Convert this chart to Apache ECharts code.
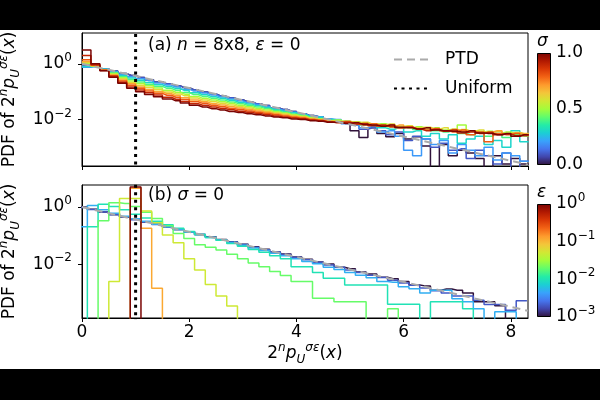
<!DOCTYPE html>
<html lang="en">

<head>
    <meta http-equiv="Content-Type" content="text/html; charset=utf-8" />
    <title>PDF of 2^n p</title>
    <style>
        html,
        body,
        #myChart {
            width: 100%;
            height: 100%;
            margin: 0;
            padding: 0;
            overflow: hidden;
            background: #fff;
        }
    </style>
</head>

<body>
    <div id="myChart"></div>
    <script src="https://cdn.jsdelivr.net/npm/echarts@6/dist/echarts.min.js"></script>
    <script>
        // histogram bins: panel (a) 50 bins of width 1/6 from 0, panel (b) bins of width 0.2 centred on 0, 0.2, ... 8.2
        var topBinWidth = 1 / 6;
        var bottomBinWidth = 0.2;
        var xMax = 8.32;

        // panel (a): log10 of the pdf for each sigma (null = empty bin)
        var sigmaValues = [0, 0.1, 0.2, 0.3, 0.4, 0.5, 0.6, 0.7, 0.8, 0.9, 1.0];
        var logPdfSigma00 = [-0.05, -0.10, -0.18, -0.26, -0.35, -0.42, -0.49, -0.57, -0.65, -0.72,
            -0.79, -0.86, -0.93, -1.01, -1.08, -1.15, -1.22, -1.29, -1.36, -1.43,
            -1.50, -1.58, -1.64, -1.71, -1.79, -1.86, -1.90, -2.00, -2.08, -2.10,
            -2.40, -2.65, -2.30, -2.50, -2.62, -2.50, -2.70, -2.62, -2.95, null,
            -2.90, -3.30, -3.10, -3.20, -3.40, null, -3.30, -3.60, -3.40, -3.60];
        var logPdfSigma01 = [-0.05, -0.10, -0.18, -0.26, -0.35, -0.42, -0.49, -0.57, -0.65, -0.72,
            -0.79, -0.86, -0.93, -1.01, -1.08, -1.15, -1.22, -1.29, -1.36, -1.43,
            -1.50, -1.58, -1.64, -1.71, -1.79, -1.86, -1.90, -2.00, -2.10, -2.05,
            -2.20, -2.35, -2.30, -2.40, -2.55, -2.45, -2.75, -2.60, -2.70, -3.00,
            -2.85, -3.10, -3.05, -3.40, -3.10, -3.30, -3.60, -3.20, null, -3.50];
        var logPdfSigma02 = [-0.12, -0.10, -0.19, -0.28, -0.38, -0.46, -0.54, -0.61, -0.69, -0.76,
            -0.83, -0.91, -0.98, -1.05, -1.12, -1.19, -1.26, -1.33, -1.40, -1.46,
            -1.53, -1.61, -1.67, -1.74, -1.80, -1.87, -1.90, -1.98, -2.00, -2.15,
            -2.10, -2.30, -2.25, -2.45, -2.40, -2.60, -3.10, -3.30, -2.70, -2.90,
            -2.75, -3.20, -2.90, -3.10, -3.30, -3.00, -3.45, -3.20, -3.30, -3.50];
        var logPdfSigma03 = [-0.10, -0.10, -0.20, -0.30, -0.42, -0.51, -0.59, -0.67, -0.75, -0.82,
            -0.89, -0.96, -1.04, -1.11, -1.18, -1.24, -1.31, -1.38, -1.44, -1.51,
            -1.57, -1.64, -1.70, -1.76, -1.82, -1.89, -1.92, -2.00, -2.02, -2.10,
            -2.12, -2.20, -2.15, -2.30, -2.35, -2.28, -2.45, -2.40, -2.60, -2.50,
            -2.70, -2.55, -2.85, -2.70, -2.60, -2.90, -2.75, -3.00, -2.40, -2.80];
        var logPdfSigma04 = [0.00, -0.09, -0.20, -0.33, -0.46, -0.56, -0.65, -0.73, -0.81, -0.88,
            -0.95, -1.03, -1.10, -1.17, -1.24, -1.30, -1.37, -1.43, -1.49, -1.55,
            -1.61, -1.68, -1.74, -1.80, -1.85, -1.91, -1.97, -2.03, -2.05, -2.08,
            -2.12, -2.15, -2.20, -2.18, -2.26, -2.30, -2.28, -2.36, -2.32, -2.40,
            -2.45, -2.40, -2.50, -2.55, -2.45, -2.60, -2.50, -2.65, -2.55, -2.60];
        var logPdfSigma05 = [0.02, -0.08, -0.21, -0.35, -0.50, -0.62, -0.71, -0.79, -0.87, -0.95,
            -1.02, -1.09, -1.17, -1.24, -1.30, -1.36, -1.42, -1.49, -1.54, -1.60,
            -1.66, -1.72, -1.77, -1.83, -1.87, -1.94, -1.98, -2.04, -2.02, -2.10,
            -2.08, -2.14, -2.18, -2.15, -2.22, -2.25, -2.30, -2.26, -2.33, -2.30,
            -2.38, -2.35, -2.20, -2.40, -2.45, -2.42, -2.50, -2.45, -2.50, -2.55];
        var logPdfSigma06 = [0.05, -0.07, -0.22, -0.38, -0.54, -0.67, -0.77, -0.85, -0.93, -1.01,
            -1.08, -1.15, -1.23, -1.30, -1.36, -1.42, -1.48, -1.54, -1.59, -1.65,
            -1.70, -1.76, -1.80, -1.86, -1.90, -1.96, -2.00, -2.05, -2.06, -2.05,
            -2.12, -2.10, -2.17, -2.20, -2.16, -2.25, -2.22, -2.30, -2.28, -2.35,
            -2.30, -2.40, -2.36, -2.42, -2.38, -2.46, -2.42, -2.50, -2.47, -2.50];
        var logPdfSigma07 = [0.08, -0.06, -0.23, -0.40, -0.58, -0.72, -0.83, -0.92, -1.00, -1.07,
            -1.14, -1.22, -1.30, -1.36, -1.43, -1.48, -1.54, -1.59, -1.64, -1.69,
            -1.74, -1.79, -1.84, -1.89, -1.92, -1.98, -2.01, -2.06, -2.08, -2.12,
            -2.10, -2.18, -2.15, -2.22, -2.26, -2.20, -2.28, -2.33, -2.30, -2.36,
            -2.42, -2.35, -2.42, -2.40, -2.48, -2.45, -2.40, -2.52, -2.48, -2.52];
        var logPdfSigma08 = [0.15, -0.05, -0.23, -0.43, -0.62, -0.77, -0.88, -0.98, -1.06, -1.13,
            -1.20, -1.28, -1.36, -1.42, -1.49, -1.54, -1.60, -1.64, -1.69, -1.74,
            -1.78, -1.83, -1.87, -1.92, -1.95, -2.00, -2.03, -2.08, -2.10, -2.08,
            -2.15, -2.20, -2.16, -2.24, -2.20, -2.30, -2.27, -2.33, -2.38, -2.32,
            -2.40, -2.45, -2.38, -2.55, -2.45, -2.80, -2.50, -2.55, -2.50, -2.58];
        var logPdfSigma09 = [0.30, -0.03, -0.24, -0.45, -0.66, -0.83, -0.94, -1.04, -1.12, -1.20,
            -1.27, -1.35, -1.43, -1.49, -1.55, -1.60, -1.65, -1.70, -1.74, -1.78,
            -1.83, -1.87, -1.91, -1.95, -1.97, -2.02, -2.04, -2.08, -2.12, -2.10,
            -2.16, -2.14, -2.22, -2.20, -2.26, -2.30, -2.28, -2.34, -2.40, -2.36,
            -2.42, -2.38, -2.48, -2.45, -2.50, -2.46, -2.55, -2.52, -2.58, -2.55];
        var logPdfSigma10 = [0.50, 0.00, -0.25, -0.48, -0.70, -0.88, -1.00, -1.10, -1.18, -1.26,
            -1.33, -1.41, -1.49, -1.55, -1.61, -1.66, -1.71, -1.75, -1.79, -1.83,
            -1.87, -1.91, -1.94, -1.98, -2.00, -2.04, -2.06, -2.10, -2.10, -2.14,
            -2.12, -2.18, -2.20, -2.24, -2.20, -2.28, -2.30, -2.34, -2.30, -2.38,
            -2.40, -2.42, -2.45, -2.40, -2.48, -2.50, -2.55, -2.50, -2.60, -2.55];

        // panel (b): log10 of the pdf for each epsilon (sigma = 0)
        var epsValues = [0.001, 0.002, 0.005, 0.01, 0.02, 0.05, 0.12, 1];
        var logPdfEps0001 = [0.00, -0.08, -0.17, -0.26, -0.35, -0.43, -0.52, -0.60, -0.69, -0.78,
            -0.86, -0.96, -1.04, -1.13, -1.21, -1.30, -1.39, -1.47, -1.57, -1.64,
            -1.74, -1.82, -1.92, -1.99, -2.10, -2.15, -2.27, -2.34, -2.45, -2.50,
            -2.60, -2.72, -2.75, -2.90, -2.86, -2.90, -3.00, -3.30, -3.30, -3.44,
            null, null];
        var logPdfEps0002 = [-0.02, -0.09, -0.17, -0.27, -0.35, -0.44, -0.52, -0.61, -0.70, -0.78,
            -0.87, -0.96, -1.05, -1.14, -1.22, -1.31, -1.40, -1.49, -1.57, -1.66,
            -1.75, -1.84, -1.93, -2.02, -2.10, -2.20, -2.28, -2.38, -2.46, -2.55,
            -2.65, -2.73, -2.82, -2.92, -3.00, -3.10, -3.10, -3.25, -3.40, -3.40,
            -3.60, -3.27];
        var logPdfEps0005 = [-0.69, 0.05, -0.10, -0.22, -0.32, -0.41, -0.50, -0.60, -0.69, -0.78,
            -0.87, -0.96, -1.06, -1.15, -1.24, -1.33, -1.43, -1.52, -1.61, -1.70,
            -1.80, -1.90, -1.98, -2.10, -2.18, -2.28, -2.38, -2.47, -2.60, -2.62,
            -2.78, -2.85, -3.00, -2.90, -2.90, -3.20, -3.30, -3.55, null, -3.65,
            -3.65, null];
        var logPdfEps001 = [null, -0.69, 0.10, 0.02, -0.10, -0.25, -0.38, -0.50, -0.62, -0.74,
            -0.85, -0.96, -1.06, -1.16, -1.27, -1.37, -1.48, -1.58, -1.70, -1.80,
            -2.08, -2.08, -2.28, -2.48, -2.48, -2.72, -2.72, -2.72, -2.72, -3.39,
            -3.39, -3.39, null, -3.30, -3.30, -3.30, -3.55, null, null, null,
            null, null];
        var logPdfEps002 = [null, null, -0.48, 0.15, 0.12, 0.02, -0.18, -0.40, -0.65, -0.92,
            -1.10, -1.32, -1.40, -1.50, -1.65, -1.80, -1.95, -2.08, -2.25, -2.39,
            -2.60, -2.60, -3.18, -3.18, -3.30, -3.30, -3.30, null, null, -3.55,
            null, null, null, null, null, null, null, null, null, null,
            null, null];
        var logPdfEps005 = [null, null, null, -2.60, 0.30, 0.30, -0.14, -0.55, -0.98, -1.25,
            -1.80, -2.20, -2.70, -3.10, -3.45, null, null, null, null, null,
            null, null, null, null, null, null, null, null, null, null,
            null, null, null, null, null, null, null, null, null, null,
            null, null];
        var logPdfEps012 = [null, null, null, null, null, 0.65, -0.74, -2.83, null, null,
            null, null, null, null, null, null, null, null, null, null,
            null, null, null, null, null, null, null, null, null, null,
            null, null, null, null, null, null, null, null, null, null,
            null, null];
        var logPdfEps1 = [null, null, null, null, null, 0.70, null, null, null, null,
            null, null, null, null, null, null, null, null, null, null,
            null, null, null, null, null, null, null, null, null, null,
            null, null, null, null, null, null, null, null, null, null,
            null, null];

        var ptdPoints = [[0, 1], [8.32, 0.00024]];
        var uniformX = 1;
        var sigmaTickLabels = ['0.0', '0.5', '1.0'];

        var sigmaCurves = [logPdfSigma00, logPdfSigma01, logPdfSigma02, logPdfSigma03, logPdfSigma04,
            logPdfSigma05, logPdfSigma06, logPdfSigma07, logPdfSigma08, logPdfSigma09, logPdfSigma10];
        var epsCurves = [logPdfEps0001, logPdfEps0002, logPdfEps0005, logPdfEps001, logPdfEps002,
            logPdfEps005, logPdfEps012, logPdfEps1];

        var TURBO = ['#30123b', '#4145ab', '#4675ed', '#39a2fc', '#1bcfd4', '#24eca6', '#61fc6c', '#a4fc3b',
            '#d1e834', '#f3c63a', '#fe9b2d', '#f36315', '#d93806', '#b11901', '#7a0403'];
        function hexRgb(h) {
            return [parseInt(h.slice(1, 3), 16), parseInt(h.slice(3, 5), 16), parseInt(h.slice(5, 7), 16)];
        }
        function turbo(t) {
            var s = Math.min(Math.max(t, 0), 1) * (TURBO.length - 1);
            var i = Math.min(Math.floor(s), TURBO.length - 2);
            var f = s - i;
            var a = hexRgb(TURBO[i]), b = hexRgb(TURBO[i + 1]);
            return 'rgb(' + [0, 1, 2].map(function (k) { return Math.round(a[k] + (b[k] - a[k]) * f); }).join(',') + ')';
        }

        // empty bins drop below the axis floor, like a matplotlib step histogram on log axes
        var FLOOR = 1e-9;
        function histPoints(logs, width, firstCenter) {
            var pts = logs.map(function (v, i) {
                return [firstCenter + i * width, v === null ? FLOOR : Math.pow(10, v)];
            });
            pts.unshift([firstCenter - width / 2, pts[0][1]]);
            pts.push([firstCenter + (logs.length - 0.5) * width, pts[pts.length - 1][1]]);
            return pts;
        }

        var FONT = 'DejaVu Sans';
        var rich = {
            t: { fontSize: 17, fontFamily: FONT, color: '#000', fontWeight: 'normal', lineHeight: 24 },
            i: { fontSize: 17, fontFamily: FONT, color: '#000', fontWeight: 'normal', fontStyle: 'italic', lineHeight: 24 },
            sp: { fontSize: 12, fontFamily: FONT, color: '#000', fontWeight: 'normal', fontStyle: 'italic', verticalAlign: 'top', lineHeight: 12 },
            su: { fontSize: 12, fontFamily: FONT, color: '#000', fontWeight: 'normal', verticalAlign: 'top', lineHeight: 12 },
            sb: { fontSize: 12, fontFamily: FONT, color: '#000', fontWeight: 'normal', fontStyle: 'italic', verticalAlign: 'bottom', lineHeight: 12 }
        };
        var pdfName = '{t|PDF of 2}{sp|n}{i|p}{sb|U}{sp|σε}{t|(}{i|x}{t|)}';
        var xName = '{t|2}{sp|n}{i|p}{sb|U}{sp|σε}{t|(}{i|x}{t|)}';

        function powerLabel(v) {
            var e = Math.log10(v);
            var r = Math.round(e);
            if (Math.abs(e - r) > 1e-6) return '';
            return '{t|10}{su|' + (r < 0 ? '\u2212' + (-r) : r) + '}';
        }

        var black = { color: '#000', width: 1 };
        function mainX(gi, showLabel) {
            return {
                gridIndex: gi, type: 'value', min: 0, max: xMax, interval: 2,
                axisLine: { lineStyle: black }, axisTick: { length: 4, lineStyle: black },
                axisLabel: { show: showLabel, fontSize: 17, fontFamily: FONT, color: '#000', margin: 6, showMaxLabel: false },
                splitLine: { show: false },
                name: showLabel ? xName : '', nameLocation: 'middle', nameGap: 24,
                nameTextStyle: { rich: rich }
            };
        }
        function mainY(gi, min, max) {
            return {
                gridIndex: gi, type: 'log', logBase: 100, min: min, max: max,
                axisLine: { lineStyle: black }, axisTick: { length: 4, lineStyle: black },
                axisLabel: {
                    formatter: powerLabel, rich: rich, margin: 10, showMinLabel: false, showMaxLabel: false
                },
                splitLine: { show: false },
                name: pdfName, nameLocation: 'middle', nameGap: 50, nameRotate: 90,
                nameTextStyle: { rich: rich }
            };
        }

        var series = [];
        sigmaCurves.forEach(function (logs, i) {
            series.push({
                type: 'line', xAxisIndex: 0, yAxisIndex: 0, step: 'middle', symbol: 'none', silent: true,
                data: histPoints(logs, topBinWidth, topBinWidth / 2),
                lineStyle: { color: turbo(sigmaValues[i]), width: 1.5 }
            });
        });
        epsCurves.forEach(function (logs, i) {
            series.push({
                type: 'line', xAxisIndex: 1, yAxisIndex: 1, step: 'middle', symbol: 'none', silent: true,
                data: histPoints(logs, bottomBinWidth, 0),
                lineStyle: { color: turbo((Math.log10(epsValues[i]) + 3) / 3), width: 1.5 }
            });
        });
        [0, 1].forEach(function (p) {
            series.push({
                name: 'PTD', type: 'line', xAxisIndex: p, yAxisIndex: p, symbol: 'none', silent: true,
                data: ptdPoints, lineStyle: { color: '#aaaaaa', width: 2, type: [8, 5] }
            });
            series.push({
                name: 'Uniform', type: 'line', xAxisIndex: p, yAxisIndex: p, symbol: 'none', silent: true,
                data: [[uniformX, FLOOR], [uniformX, 1000]],
                lineStyle: { color: '#000', width: 3, type: [3, 4.5] }
            });
        });

        var gradient = {
            type: 'linear', x: 0, y: 1, x2: 0, y2: 0,
            colorStops: TURBO.map(function (c, i) { return { offset: i / (TURBO.length - 1), color: c }; })
        };
        series.push({
            type: 'bar', xAxisIndex: 2, yAxisIndex: 2, data: [1], barWidth: '100%', silent: true,
            itemStyle: { color: gradient, borderColor: '#000', borderWidth: 1 }
        });
        series.push({
            type: 'bar', xAxisIndex: 3, yAxisIndex: 3, data: [1], barWidth: '100%', silent: true,
            itemStyle: { color: gradient, borderColor: '#000', borderWidth: 1 }
        });

        var gridBase = { containLabel: false, outerBoundsMode: 'none' };
        function grid(extra) {
            return Object.assign({}, gridBase, extra);
        }

        var myChart = echarts.init(document.getElementById('myChart'));
        var option = {
            animation: false,
            backgroundColor: '#fff',
            textStyle: { fontFamily: FONT },
            grid: [
                grid({ left: 82, top: 33, width: 446, height: 133, show: true, borderColor: '#000', borderWidth: 1 }),
                grid({ left: 82, top: 185, width: 446, height: 133, show: true, borderColor: '#000', borderWidth: 1 }),
                grid({ left: 537, top: 53, width: 14, height: 112 }),
                grid({ left: 537, top: 204, width: 14, height: 113 })
            ],
            xAxis: [
                mainX(0, false),
                mainX(1, true),
                { gridIndex: 2, type: 'category', data: ['c'], show: false },
                { gridIndex: 3, type: 'category', data: ['c'], show: false }
            ],
            yAxis: [
                mainY(0, 0.000214, 12.8),
                mainY(1, 0.000135, 5.85),
                {
                    gridIndex: 2, type: 'value', min: 0, max: 1, interval: 0.5, position: 'right',
                    axisLine: { show: false }, axisTick: { length: 4, lineStyle: black },
                    axisLabel: {
                        fontSize: 17, fontFamily: FONT, color: '#000', margin: 5,
                        formatter: function (v) { return sigmaTickLabels[Math.round(v * 2)]; }
                    },
                    splitLine: { show: false }
                },
                { gridIndex: 3, type: 'value', min: 0, max: 1, show: false },
                {
                    gridIndex: 3, type: 'log', min: 0.001, max: 1, position: 'right',
                    axisLine: { show: false }, axisTick: { length: 4, lineStyle: black },
                    axisLabel: { formatter: powerLabel, rich: rich, margin: 5 },
                    splitLine: { show: false }
                }
            ],
            title: [
                { text: '{t|(a) }{i|n}{t| = 8x8, }{i|ε}{t| = 0}', left: 148, top: 34, padding: 0, textStyle: { fontWeight: 'normal', rich: rich } },
                { text: '{t|(b) }{i|σ}{t| = 0}', left: 148, top: 184, padding: 0, textStyle: { fontWeight: 'normal', rich: rich } },
                { text: '{i|σ}', left: 537, top: 30, padding: 0, textStyle: { fontWeight: 'normal', rich: rich } },
                { text: '{i|ε}', left: 537, top: 181, padding: 0, textStyle: { fontWeight: 'normal', rich: rich } }
            ],
            legend: {
                data: ['PTD', 'Uniform'], orient: 'vertical', left: 388, top: 46,
                itemWidth: 36, itemHeight: 14, itemGap: 12, selectedMode: false,
                itemStyle: { opacity: 0 },
                textStyle: { fontSize: 17, fontFamily: FONT, color: '#000', padding: [0, 0, 0, 10] }
            },
            graphic: [
                { type: 'rect', shape: { x: 0, y: 0, width: 600, height: 30 }, style: { fill: '#000' }, z: 100 },
                { type: 'rect', shape: { x: 0, y: 369, width: 600, height: 31 }, style: { fill: '#000' }, z: 100 }
            ],
            series: series
        };
        myChart.setOption(option);
    </script>
</body>

</html>
